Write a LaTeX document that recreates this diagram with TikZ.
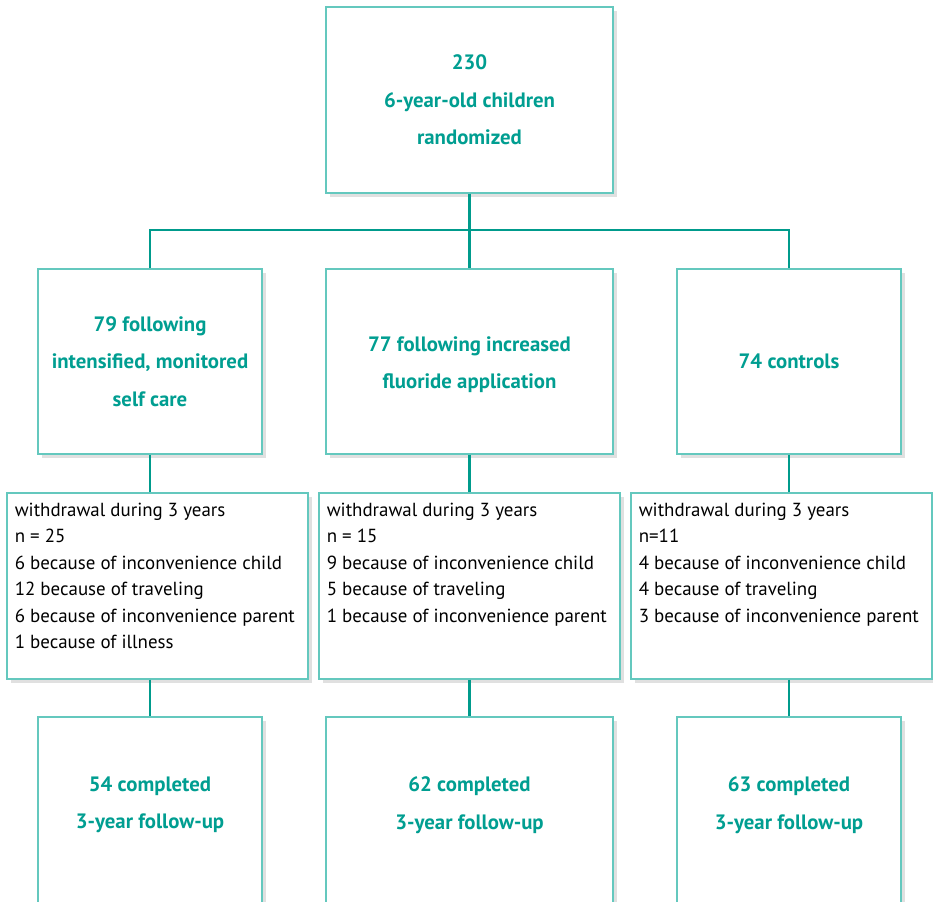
\documentclass[tikz,border=0pt]{standalone}
\usepackage{fontspec}
\setmainfont{PT Sans}
\usetikzlibrary{shadows}

\definecolor{tealtext}{RGB}{0,158,145}
\definecolor{tealline}{RGB}{0,155,140}
\definecolor{tealframe}{RGB}{100,200,190}

\tikzset{every picture/.style={line width=0.75pt}}
\tikzset{
  box/.style={draw=tealframe, line width=1.1pt, fill=white, inner sep=0pt,
    drop shadow={shadow xshift=3pt, shadow yshift=-3pt, fill=black, opacity=0.12}},
  headtext/.style={text=tealtext, font=\bfseries\fontsize{15.6}{28.1}\selectfont, align=center},
  listtext/.style={anchor=north west, inner sep=0pt, align=left, font=\fontsize{14.2}{19.9}\selectfont},
  link/.style={draw=tealline, line width=1.6pt}
}

\begin{document}
\begin{tikzpicture}[x=0.75pt,y=0.75pt,yscale=-1,xscale=1]
\path[use as bounding box, clip] (0,0) rectangle (933,902);

%Shape: Rectangle [id:top]
\node[box, minimum width=215.25pt, minimum height=139.5pt] (rand) at (469.5,100) {};
% Text Node
\node[headtext] (randtxt) at (rand.center) {230\\6-year-old children\\randomized};

%Shape: Rectangle [id:groups]
\node[box, minimum width=168pt, minimum height=138.75pt] (grpa) at (150,361.5) {};
\node[box, minimum width=215.25pt, minimum height=138.75pt] (grpb) at (469.5,361.5) {};
\node[box, minimum width=168pt, minimum height=138.75pt] (grpc) at (789,361.5) {};
% Text Node
\node[headtext] (grpatxt) at (grpa.center) {79 following\\intensified, monitored\\self care};
\node[headtext] (grpbtxt) at ([yshift=2.5pt]grpb.center) {77 following increased\\fluoride application};
\node[headtext] (grpctxt) at (grpc.center) {74 controls};

%Shape: Rectangle [id:withdrawal]
\node[box, minimum width=225.75pt, minimum height=139.5pt] (wdra) at (157.5,586) {};
\node[box, minimum width=225.75pt, minimum height=139.5pt] (wdrb) at (469.5,586) {};
\node[box, minimum width=225.75pt, minimum height=139.5pt] (wdrc) at (781.5,586) {};
% Text Node
\node[listtext] (wdratxt) at ([xshift=6pt,yshift=7.5pt]wdra.north west) {withdrawal during 3 years\\n = 25\\6 because of inconvenience child\\12 because of traveling\\6 because of inconvenience parent\\1 because of illness};
\node[listtext] (wdrbtxt) at ([xshift=6pt,yshift=7.5pt]wdrb.north west) {withdrawal during 3 years\\n = 15\\9 because of inconvenience child\\5 because of traveling\\1 because of inconvenience parent};
\node[listtext] (wdrctxt) at ([xshift=6pt,yshift=7.5pt]wdrc.north west) {withdrawal during 3 years\\n=11\\4 because of inconvenience child\\4 because of traveling\\3 because of inconvenience parent};

%Shape: Rectangle [id:completed]
\node[box, minimum width=168pt, minimum height=150pt] (done) at (150,817) {};
\node[box, minimum width=215.25pt, minimum height=150pt] (donb) at (469.5,817) {};
\node[box, minimum width=168pt, minimum height=150pt] (donc) at (789,817) {};
% Text Node
\node[headtext] (donetxt) at ([yshift=-9pt]done.center) {54 completed\\3-year follow-up};
\node[headtext] (donbtxt) at ([yshift=-9pt]donb.center) {62 completed\\3-year follow-up};
\node[headtext] (donctxt) at ([yshift=-9pt]donc.center) {63 completed\\3-year follow-up};

%Straight Lines
\coordinate (split) at (469.5,230);
\draw[link] (rand.south) -- (split);
\draw[link] (grpa.north) |- (grpc.north |- split) -- (grpc.north);
\draw[link] (split) -- (grpb.north);
\draw[link] (grpa.south) -- (grpa.south |- wdra.north);
\draw[link] (grpb.south) -- (wdrb.north);
\draw[link] (grpc.south) -- (grpc.south |- wdrc.north);
\draw[link] (done.north |- wdra.south) -- (done.north);
\draw[link] (wdrb.south) -- (donb.north);
\draw[link] (donc.north |- wdrc.south) -- (donc.north);

\end{tikzpicture}
\end{document}
